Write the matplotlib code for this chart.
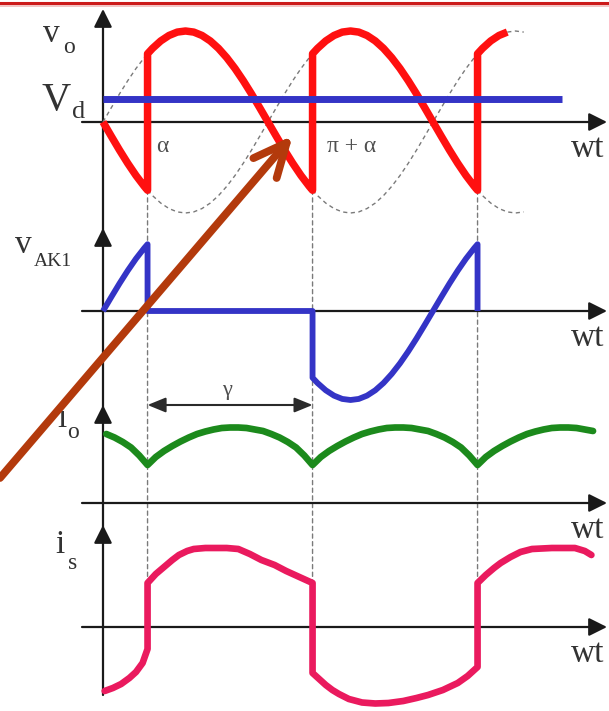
import numpy as np
import matplotlib
matplotlib.use("Agg")
import matplotlib.pyplot as plt
from matplotlib.patches import FancyArrowPatch, ConnectionPatch
from matplotlib.lines import Line2D

plt.rcParams['font.family'] = ['Liberation Serif', 'DejaVu Serif']

# ---------------- waveform data (angles in multiples of pi) ----------------
alpha = 0.27          # firing angle
vd_level = 0.25       # mean output voltage V_d
vd_end = 2.78         # extent of the V_d line

# output voltage over one conduction interval, theta measured from firing
theta_v = [0.00, 0.03, 0.08, 0.13, 0.18, 0.23, 0.28, 0.33, 0.38, 0.43, 0.48,
           0.53, 0.58, 0.63, 0.68, 0.73, 0.78, 0.83, 0.88, 0.93, 0.98, 1.00]
vo_cycle = [0.750, 0.809, 0.891, 0.951, 0.988, 1.000, 0.988, 0.951, 0.891, 0.809, 0.707,
            0.588, 0.454, 0.309, 0.156, 0.000, -0.156, -0.309, -0.454, -0.588, -0.707, -0.750]

# load current over one conduction interval
theta_i = [0.00, 0.05, 0.10, 0.15, 0.20, 0.25, 0.30, 0.35, 0.40, 0.45, 0.50,
           0.55, 0.60, 0.65, 0.70, 0.75, 0.80, 0.85, 0.90, 0.95, 1.00]
io_cycle = [0.38, 0.46, 0.52, 0.57, 0.615, 0.655, 0.69, 0.715, 0.735, 0.75, 0.755,
            0.755, 0.75, 0.735, 0.72, 0.69, 0.655, 0.61, 0.555, 0.475, 0.38]

# supply current pieces
is_lead_t = [0.01, 0.06, 0.11, 0.16, 0.20, 0.24, 0.27]
is_lead_v = [-0.64, -0.61, -0.57, -0.51, -0.45, -0.36, -0.22]
is_pos_theta = [0.00, 0.05, 0.10, 0.15, 0.19, 0.24, 0.28, 0.35, 0.41, 0.48,
                0.55, 0.62, 0.69, 0.77, 0.84, 0.92, 1.00]
is_pos_v = [0.44, 0.53, 0.60, 0.67, 0.72, 0.76, 0.78, 0.79, 0.79, 0.79,
            0.78, 0.73, 0.67, 0.62, 0.56, 0.50, 0.44]
is_neg_theta = [0.00, 0.04, 0.08, 0.12, 0.16, 0.22, 0.30, 0.38, 0.46, 0.55,
                0.63, 0.70, 0.79, 0.88, 0.94, 1.00]
is_neg_v = [-0.46, -0.52, -0.58, -0.63, -0.67, -0.72, -0.755, -0.765, -0.76, -0.74,
            -0.71, -0.68, -0.63, -0.56, -0.49, -0.40]
is_tail_theta = [0.00, 0.05, 0.10, 0.14, 0.20, 0.26, 0.33, 0.45, 0.59, 0.65, 0.69]
is_tail_v = [0.44, 0.52, 0.59, 0.64, 0.70, 0.75, 0.78, 0.79, 0.79, 0.76, 0.72]

tick_labels = ['α', 'π + α']
gamma_label = 'γ'

# ---------------- layout ----------------
W, H, DPI = 609, 711, 100
ORIGIN_PX, PI_PX = 103, 165           # wt = 0 and one pi, in pixels
XAXIS_START_PX, XAXIS_TIP_PX = 82, 607
# zero line, px per unit, arrow tip, lower end of vertical axis (all px from top)
PANELS = {
    'vo':  (122, 91, 9, 232),
    'vak': (311, 89, 228, 407),
    'io':  (503, 100, 405, 527),
    'is':  (627, 100, 525, 695),
}

RED = '#ff1010'
BLUE = '#3434c6'
GREEN = '#1c8a1c'
PINK = '#ea1a5e'
BROWN = '#b33a0c'
AXC = '#1a1a1a'
DASH = '#7a7a7a'
TXT = '#333333'

fig = plt.figure(figsize=(W / DPI, H / DPI), dpi=DPI)
fig.patch.set_facecolor('white')


def to_t(px):
    return (px - ORIGIN_PX) / PI_PX


def make_panel(key):
    zero, scale, tip, bottom = PANELS[key]
    ax = fig.add_axes([0, 0, 1, 1])
    ax.set_xlim(to_t(0), to_t(W))
    ax.set_ylim(-(H - zero) / scale, zero / scale)
    ax.axis('off')
    head = 'head_length=11,head_width=5.5'
    ax.add_patch(FancyArrowPatch((to_t(XAXIS_START_PX), 0), (to_t(XAXIS_TIP_PX), 0),
                                 arrowstyle='-|>,' + head, mutation_scale=1, lw=1.6,
                                 color=AXC, shrinkA=0, shrinkB=0, zorder=1))
    ax.add_patch(FancyArrowPatch((0, (zero - bottom) / scale), (0, (zero - tip) / scale),
                                 arrowstyle='-|>,' + head, mutation_scale=1, lw=1.6,
                                 color=AXC, shrinkA=0, shrinkB=0, zorder=1))
    return ax


def piece(theta, values, start, lo=0.0, hi=1.0):
    th = np.asarray(theta, float)
    v = np.asarray(values, float)
    m = (th >= lo - 1e-9) & (th <= hi + 1e-9)
    return start + th[m], v[m]


def fig_text(x_px, y_px, s, size, **kw):
    fig.text(x_px / W, 1 - y_px / H, s, fontsize=size, color=TXT,
             ha='left', va='baseline', **kw)


ax1 = make_panel('vo')
ax2 = make_panel('vak')
ax3 = make_panel('io')
ax4 = make_panel('is')

# ---------------- output voltage panel ----------------
vo_lead = piece(theta_v, vo_cycle, alpha - 1, lo=0.73)
vo_c0 = piece(theta_v, vo_cycle, alpha)
vo_c1 = piece(theta_v, vo_cycle, alpha + 1)
vo_head = piece(theta_v, vo_cycle, alpha + 2, hi=0.18)
vo_ext = piece(theta_v, vo_cycle, alpha + 2, hi=0.28)

dash_kw = dict(color=DASH, lw=1.0, ls=(0, (3, 2.5)), zorder=2)
for t, v in (vo_lead, vo_c0, vo_c1, vo_ext):
    ax1.plot(t, -v, **dash_kw)
t_top, v_top = piece(theta_v, vo_cycle, alpha + 2, lo=0.18, hi=0.28)
ax1.plot(t_top, v_top, **dash_kw)

red_t = np.concatenate([vo_lead[0], vo_c0[0], vo_c1[0], vo_head[0]])
red_v = np.concatenate([vo_lead[1], vo_c0[1], vo_c1[1], vo_head[1]])
ax1.plot(red_t, red_v, color=RED, lw=5.4, solid_joinstyle='round',
         solid_capstyle='butt', zorder=3)
ax1.plot([0, vd_end], [vd_level, vd_level], color=BLUE, lw=5.0,
         solid_capstyle='butt', zorder=4)

for pos, lab, dx in zip([alpha, 1 + alpha], tick_labels, [9, 14]):
    ax1.annotate(lab, xy=(pos, 0), xytext=(dx, -30), textcoords='offset pixels',
                 fontsize=17, color='#505050', ha='left', va='baseline')

# ---------------- thyristor voltage panel ----------------
vak_t = np.concatenate([vo_lead[0], [alpha, 1 + alpha], vo_c1[0], [2 + alpha]])
vak_v = np.concatenate([-vo_lead[1], [0, 0], -vo_c1[1], [0]])
ax2.plot(vak_t, vak_v, color=BLUE, lw=4.2, solid_joinstyle='round',
         solid_capstyle='butt', zorder=3)

# ---------------- load current panel ----------------
io_parts = [piece(theta_i, io_cycle, alpha - 1, lo=0.75),
            piece(theta_i, io_cycle, alpha),
            piece(theta_i, io_cycle, alpha + 1),
            piece(theta_i, io_cycle, alpha + 2, hi=0.70)]
io_t = np.concatenate([p[0] for p in io_parts])
io_v = np.concatenate([p[1] for p in io_parts])
ax3.plot(io_t, io_v, color=GREEN, lw=4.8, solid_joinstyle='round',
         solid_capstyle='round', zorder=3)

gamma_y = 0.98
ax3.add_patch(FancyArrowPatch((alpha, gamma_y), (1 + alpha, gamma_y),
                              arrowstyle='<|-|>,head_length=11,head_width=4.5',
                              mutation_scale=1, lw=1.5, color='#2a2a2a',
                              shrinkA=0, shrinkB=0, zorder=3))
ax3.annotate(gamma_label, xy=(alpha + 0.5, gamma_y), xytext=(-8, 10),
             textcoords='offset pixels', fontsize=16, color='#505050',
             ha='left', va='baseline')

# ---------------- supply current panel ----------------
is_parts = [(np.asarray(is_lead_t), np.asarray(is_lead_v)),
            piece(is_pos_theta, is_pos_v, alpha),
            piece(is_neg_theta, is_neg_v, alpha + 1),
            piece(is_tail_theta, is_tail_v, alpha + 2)]
is_t = np.concatenate([p[0] for p in is_parts])
is_v = np.concatenate([p[1] for p in is_parts])
ax4.plot(is_t, is_v, color=PINK, lw=4.8, solid_joinstyle='round',
         solid_capstyle='round', zorder=3)

# ---------------- dashed firing markers through all panels ----------------
for k in range(3):
    t = alpha + k
    con = ConnectionPatch(xyA=(t, vo_cycle[-1]), coordsA=ax1.transData,
                          xyB=(t, is_pos_v[0]), coordsB=ax4.transData,
                          color=DASH, lw=1.0, ls=(0, (3, 2.5)), zorder=-1)
    fig.add_artist(con)

# ---------------- pointer arrow ----------------
pointer = ConnectionPatch(xyA=(to_t(0), 0.25), coordsA=ax3.transData,
                          xyB=(1.15, -0.15), coordsB=ax1.transData,
                          arrowstyle='->,head_length=24,head_width=11',
                          mutation_scale=1, lw=5.6, color=BROWN,
                          capstyle='round', joinstyle='round', zorder=5)
fig.add_artist(pointer)

# ---------------- header rule ----------------
fig.add_artist(Line2D([0, 1], [1 - 3 / H] * 2, transform=fig.transFigure,
                      color='#cc1a1a', lw=2.2))
fig.add_artist(Line2D([0, 1], [1 - 6 / H] * 2, transform=fig.transFigure,
                      color='#f2c4c4', lw=1.4))

# ---------------- axis names ----------------
fig_text(43, 42, 'v', 24)
fig_text(63, 53, 'o', 17)
fig_text(42, 110, 'V', 29)
fig_text(72, 118, 'd', 19)
fig_text(15, 253, 'v', 24)
fig_text(34, 266, 'AK1', 14)
fig_text(57, 427, 'i', 24)
fig_text(67, 438, 'o', 17)
fig_text(55, 553, 'i', 24)
fig_text(68, 569, 's', 17)
for zero_px in (122, 311, 503, 627):
    fig_text(571, zero_px + 35, 'wt', 24)

fig.savefig('out.png', dpi=DPI, facecolor='white')
